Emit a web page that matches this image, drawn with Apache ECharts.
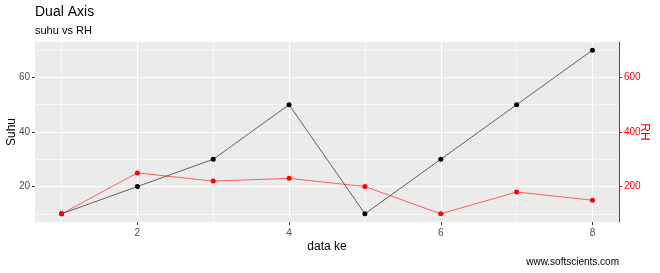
<!DOCTYPE html>
<html><head><meta charset="utf-8">
<script src="https://cdn.jsdelivr.net/npm/echarts@6/dist/echarts.min.js"></script>
<style>html,body{margin:0;padding:0;background:#fff}#c{width:660px;height:273px}</style>
</head><body><div id="c"></div>
<script>
const dataKe = [1, 2, 3, 4, 5, 6, 7, 8];
const suhu = [10, 20, 30, 50, 10, 30, 50, 70];
const rh = [100, 250, 220, 230, 200, 100, 180, 150];
const xMajor = [2, 4, 6, 8];
const xMinor = [1, 3, 5, 7];
const suhuMajor = [20, 40, 60];
const suhuMinor = [10, 30, 50, 70];
const rhMajor = [200, 400, 600];

const FONT = 'Liberation Sans, Arial, sans-serif';
const chart = echarts.init(document.getElementById('c'), null, {renderer: 'canvas'});
const grid = {left: 35, right: 41, top: 42, height: 180, backgroundColor: '#EBEBEB', show: true, borderWidth: 0,
  containLabel: false, outerBoundsMode: 'none'};
const xr = {min: 0.65, max: 8.35};
const yr = {min: 7, max: 73};
const yr2 = {min: 70, max: 730};
const hideAll = {axisLine: {show: false}, axisLabel: {show: false}};

chart.setOption({
  animation: false,
  title: [
    {text: 'Dual Axis', left: 35, top: 5, padding: 0, textStyle: {fontFamily: FONT, fontSize: 14, fontWeight: 'normal', color: '#000'}},
    {text: 'suhu vs RH', left: 35, top: 25, padding: 0, textStyle: {fontFamily: FONT, fontSize: 11, fontWeight: 'normal', color: '#000'}},
    {text: 'www.softscients.com', right: 41, top: 257, padding: 0, textStyle: {fontFamily: FONT, fontSize: 10, fontWeight: 'normal', color: '#000'}}
  ],
  grid: grid,
  xAxis: [
    Object.assign({type: 'value', name: 'data ke', nameLocation: 'middle', nameGap: 19, nameMoveOverlap: false,
      nameTextStyle: {fontFamily: FONT, fontSize: 12, color: '#000'},
      axisLine: {show: false},
      axisTick: {show: true, length: 3, customValues: xMajor, lineStyle: {color: '#333'}},
      axisLabel: {customValues: xMajor, fontFamily: FONT, fontSize: 10, color: '#4D4D4D', margin: 6},
      splitLine: {show: true, lineStyle: {color: '#fff', width: 1.1}}}, xr),
    Object.assign({type: 'value', axisTick: {show: false, customValues: xMinor},
      splitLine: {show: true, lineStyle: {color: '#fff', width: 0.6}}}, xr, hideAll)
  ],
  yAxis: [
    Object.assign({type: 'value', position: 'left', name: 'Suhu', nameLocation: 'middle', nameGap: 17, nameRotate: 90, nameMoveOverlap: false,
      nameTextStyle: {fontFamily: FONT, fontSize: 12, color: '#000'},
      axisLine: {show: false},
      axisTick: {show: true, length: 3, customValues: suhuMajor, lineStyle: {color: '#333'}},
      axisLabel: {customValues: suhuMajor, fontFamily: FONT, fontSize: 10, color: '#4D4D4D', margin: 5},
      splitLine: {show: true, lineStyle: {color: '#fff', width: 1.1}}}, yr),
    Object.assign({type: 'value', position: 'right', name: 'RH', nameLocation: 'middle', nameGap: 19, nameRotate: -90, nameMoveOverlap: false,
      nameTextStyle: {fontFamily: FONT, fontSize: 12, color: '#FF0000'},
      axisLine: {show: true, lineStyle: {color: '#FF0000', width: 1}},
      axisTick: {show: true, length: 3, customValues: rhMajor, lineStyle: {color: '#FF0000'}},
      axisLabel: {customValues: rhMajor, fontFamily: FONT, fontSize: 10, color: '#FF0000', margin: 5},
      splitLine: {show: false}}, yr2),
    Object.assign({type: 'value', position: 'left', axisTick: {show: false, customValues: suhuMinor},
      splitLine: {show: true, lineStyle: {color: '#fff', width: 0.6}}}, yr, hideAll)
  ],
  series: [
    {type: 'line', name: 'suhu', xAxisIndex: 0, yAxisIndex: 0,
      data: dataKe.map((x, i) => [x, suhu[i]]),
      symbol: 'circle', symbolSize: 5, lineStyle: {color: '#000', width: 0.6}, itemStyle: {color: '#000'}},
    {type: 'line', name: 'RH', xAxisIndex: 0, yAxisIndex: 1,
      data: dataKe.map((x, i) => [x, rh[i]]),
      symbol: 'circle', symbolSize: 5, lineStyle: {color: '#FF0000', width: 0.6}, itemStyle: {color: '#FF0000'}}
  ]
});
</script></body></html>
